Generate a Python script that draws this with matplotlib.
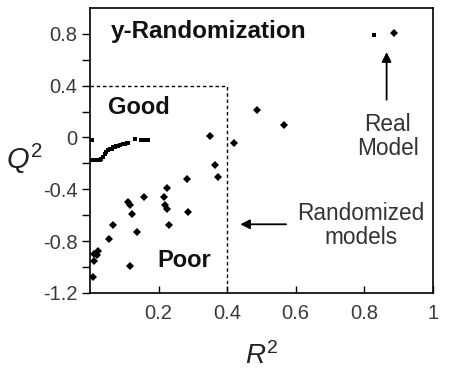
import matplotlib
matplotlib.use("Agg")
import matplotlib.pyplot as plt

plt.rcParams['font.family'] = ['Liberation Sans', 'DejaVu Sans']
plt.rcParams['mathtext.fontset'] = 'custom'
plt.rcParams['mathtext.it'] = 'Liberation Sans:italic'
plt.rcParams['mathtext.rm'] = 'Liberation Sans'

# squares: real model + randomized models (method A)
r2_sq = [0.828, 0.006, 0.003, 0.008, 0.013, 0.018, 0.023, 0.028, 0.033, 0.038,
         0.043, 0.048, 0.053, 0.058, 0.063, 0.067, 0.072, 0.077, 0.082, 0.087,
         0.097, 0.102, 0.107, 0.112, 0.131, 0.150, 0.156, 0.162, 0.168]
q2_sq = [0.790, -0.020, -0.170, -0.170, -0.170, -0.170, -0.170, -0.170, -0.168, -0.150,
         -0.125, -0.110, -0.100, -0.090, -0.085, -0.075, -0.070, -0.065, -0.062, -0.058,
         -0.050, -0.048, -0.045, -0.040, -0.010, -0.020, -0.020, -0.020, -0.022]

# diamonds: real model + randomized models (method B)
r2_di = [0.886, 0.486, 0.565, 0.421, 0.351, 0.364, 0.372, 0.283, 0.225, 0.215,
         0.158, 0.218, 0.226, 0.286, 0.112, 0.117, 0.122, 0.230, 0.068, 0.137,
         0.056, 0.023, 0.021, 0.013, 0.011, 0.117, 0.010]
q2_di = [0.805, 0.213, 0.093, -0.039, 0.011, -0.215, -0.308, -0.321, -0.391, -0.461,
         -0.463, -0.518, -0.549, -0.578, -0.500, -0.520, -0.588, -0.673, -0.676, -0.733,
         -0.782, -0.880, -0.905, -0.900, -0.955, -0.995, -1.077]

xticks = [0.2, 0.4, 0.6, 0.8, 1.0]
xticklabels = ['0.2', '0.4', '0.6', '0.8', '1']
yticks = [0.8, 0.4, 0.0, -0.4, -0.8, -1.2]
yticklabels = ['0.8', '0.4', '0', '-0.4', '-0.8', '-1.2']
yminor = [0.6, 0.2, -0.2, -0.6, -1.0]

fig = plt.figure(figsize=(4.5, 3.78), dpi=100)
ax = fig.add_axes([0.2, 0.225, 0.762, 0.754])

ax.plot(r2_sq, q2_sq, 's', color='black', markersize=3.4, markeredgewidth=0)
ax.plot(r2_di, q2_di, 'D', color='black', markersize=4.4, markeredgewidth=0)

# "good" region box
ax.plot([0, 0.4, 0.4], [0.4, 0.4, -1.2], color='black', linestyle=(0, (2.5, 2)), linewidth=1)

ax.set_xlim(0, 1)
ax.set_ylim(-1.2, 1.0)
ax.set_xticks(xticks)
ax.set_xticklabels(xticklabels)
ax.set_yticks(yticks)
ax.set_yticklabels(yticklabels)
ax.set_yticks(yminor, minor=True)
ax.tick_params(axis='x', direction='in', length=5, width=1, labelsize=14.5, labelcolor='#3a3a3a', pad=8)
ax.tick_params(axis='y', which='both', direction='out', length=6, width=1, labelsize=14.5,
               labelcolor='#3a3a3a', pad=3)
for s in ax.spines.values():
    s.set_linewidth(1.2)

ax.set_xlabel('$R^2$', fontsize=20, labelpad=14, color='#222222')
ax.set_ylabel('$Q^2$', fontsize=21, rotation=0, va='center', color='#222222')
ax.yaxis.set_label_coords(-0.19, 0.47)

ax.text(0.062, 0.82, 'y-Randomization', fontsize=17.5, fontweight='bold', va='center', color='#111111')
ax.text(0.053, 0.23, 'Good', fontsize=17, fontweight='bold', va='center', color='#111111')
ax.text(0.196, -0.95, 'Poor', fontsize=17, fontweight='bold', va='center', color='#111111')
ax.text(0.868, 0.005, 'Real\nModel', fontsize=16.3, ha='center', va='center',
        linespacing=1.05, color='#333333')
ax.text(0.789, -0.68, 'Randomized\nmodels', fontsize=16.3, ha='center', va='center',
        linespacing=1.05, color='#333333')

ax.annotate('', xy=(0.865, 0.68), xytext=(0.865, 0.27),
            arrowprops=dict(arrowstyle='-|>', color='black', lw=1.3, mutation_scale=14))
ax.annotate('', xy=(0.43, -0.67), xytext=(0.58, -0.67),
            arrowprops=dict(arrowstyle='-|>', color='black', lw=1.3, mutation_scale=14))

fig.savefig('out.png', dpi=100)
